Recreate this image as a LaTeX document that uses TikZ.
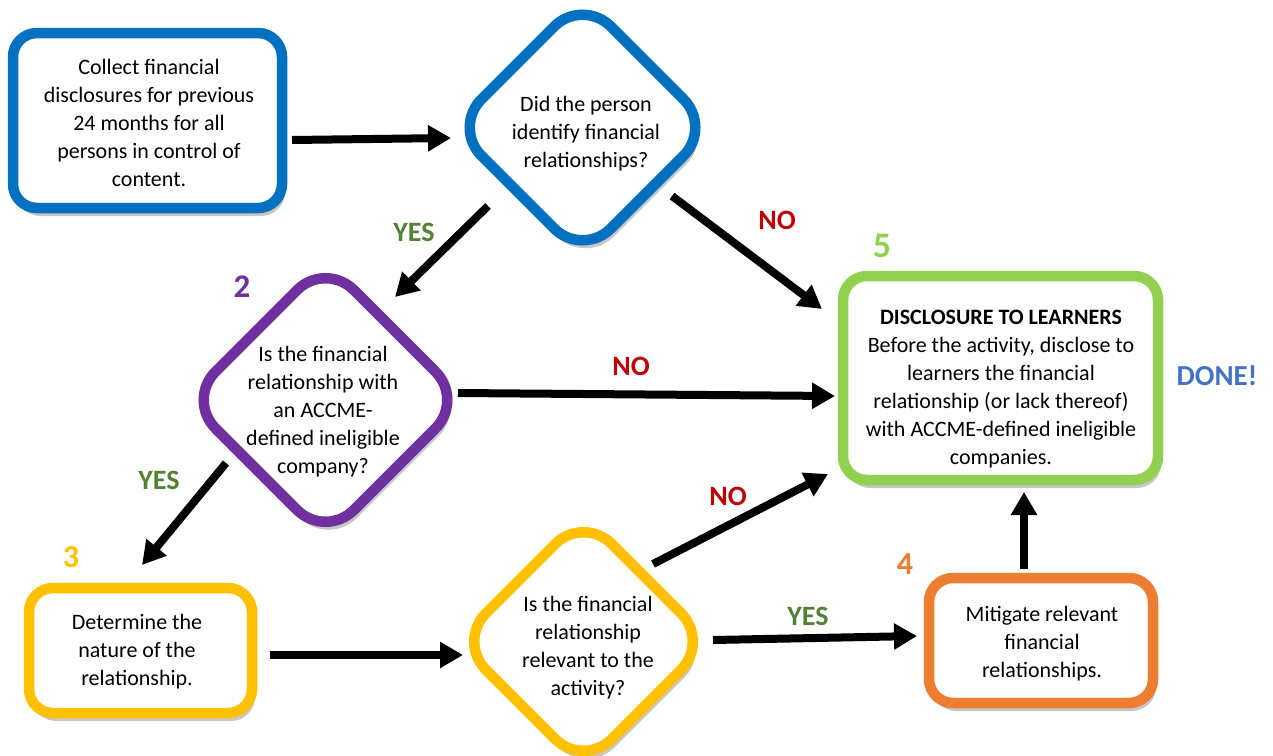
\documentclass[tikz,border=0pt]{standalone}
\usepackage{fontspec}
\setmainfont{Carlito}
\usetikzlibrary{shapes.geometric,arrows.meta,calc,shadows}
\definecolor{cblue}{HTML}{0070C0}
\definecolor{cpurple}{HTML}{7030A0}
\definecolor{cyellow}{HTML}{FFC000}
\definecolor{cgreen}{HTML}{92D050}
\definecolor{corange}{HTML}{ED7D31}
\definecolor{cdone}{HTML}{4472C4}
\definecolor{cyes}{HTML}{548235}
\definecolor{cno}{HTML}{C00000}
\newcommand\bodyfont{\fontsize{22}{28}\selectfont}
\begin{document}
\begin{tikzpicture}[x=1pt,y=-1pt,
  shad/.style={drop shadow={shadow xshift=3pt,shadow yshift=-8pt,opacity=0.22,fill=black}},
  boxshape/.style={draw,line width=10.5pt,rounded corners=24pt,fill=white,shad,inner sep=0pt},
  dshape/.style={diamond,aspect=1,draw,line width=10.5pt,rounded corners=40pt,fill=white,shad,inner sep=0pt},
  txt/.style={align=center,font=\bodyfont,inner sep=0pt},
  arr/.style={line width=8pt,-{Triangle[length=23pt,width=25pt]}},
  lab/.style={font=\fontsize{28}{30}\selectfont\bfseries,inner sep=0pt},
  num/.style={font=\fontsize{33}{36}\selectfont\bfseries,inner sep=0pt}]
\useasboundingbox (0,0) rectangle (1273,755);

% shapes
\node[boxshape,draw=cblue,minimum width=269pt,minimum height=175pt] (b1) at (147.5,120.5) {};
\node[dshape,draw=cblue,minimum width=263pt,minimum height=263pt] (d1) at (582.5,127.5) {};
\node[dshape,draw=cpurple,minimum width=281pt,minimum height=281pt] (d2) at (325.5,400) {};
\node[boxshape,draw=cgreen,minimum width=315pt,minimum height=204pt] (b5) at (1000.5,378) {};
\node[boxshape,draw=cyellow,minimum width=223pt,minimum height=125pt] (b3) at (140.5,650.5) {};
\node[dshape,draw=cyellow,minimum width=256pt,minimum height=256pt] (d3) at (583.5,641.5) {};
\node[boxshape,draw=corange,minimum width=224pt,minimum height=125pt] (b4) at (1041,640.5) {};

% texts
\node[txt] (t1) at (149,123) {Collect financial\\disclosures for previous\\24 months for all\\persons in control of\\content.};
\node[txt] (td1) at (586,133.5) {Did the person\\identify financial\\relationships?};
\node[txt] (td2) at (323,412) {Is the financial\\relationship with\\an ACCME-\\defined ineligible\\company?};
\node[txt] (t5) at (1001,389) {\textbf{DISCLOSURE TO LEARNERS}\\Before the activity, disclose to\\learners the financial\\relationship (or lack thereof)\\with ACCME-defined ineligible\\companies.};
\node[txt] (t3) at (137,651.5) {Determine the\\nature of the\\relationship.};
\node[txt] (td3) at (588,648) {Is the financial\\relationship\\relevant to the\\activity?};
\node[txt] (t4) at (1042,643.5) {Mitigate relevant\\financial\\relationships.};

% step numbers and labels
\node[num,text=cgreen,font=\fontsize{36}{38}\selectfont\bfseries] (n5) at (882,246) {5};
\node[num,text=cpurple] (n2) at (242,287) {2};
\node[num,text=cyellow,font=\fontsize{32}{34}\selectfont\bfseries] (n3) at (71,557) {3};
\node[num,text=corange,font=\fontsize{32}{34}\selectfont\bfseries] (n4) at (905,564) {4};
\node[lab,text=cdone,font=\fontsize{29}{32}\selectfont\bfseries] (done) at (1217,376) {DONE!};
\node[lab,text=cyes] (y1) at (414,232) {YES};
\node[lab,text=cno] (no1) at (777,220) {NO};
\node[lab,text=cno] (no2) at (631,366) {NO};
\node[lab,text=cyes] (y2) at (159,480) {YES};
\node[lab,text=cno] (no3) at (728,496) {NO};
\node[lab,text=cyes] (y3) at (808,616) {YES};

% connectors
\draw[arr] ($(b1)+(144.5,19.5)$) -- ($(d1)+(-131.5,10.5)$);
\draw[arr] ($(d1)+(-94.5,78.5)$) -- ($(d2)+(69.5,-103)$);
\draw[arr] ($(d1)+(89.5,68.5)$) -- ($(b5)+(-178.5,-69)$);
\draw[arr] ($(d2)+(132.5,-7)$) -- ($(b5)+(-165.5,18)$);
\draw[arr] ($(d2)+(-99.5,63)$) -- ($(b3)+(1.5,-85.5)$);
\draw[arr] ($(b3)+(129.5,4.5)$) -- ($(d3)+(-120.5,13.5)$);
\draw[arr] ($(d3)+(69.5,-77.5)$) -- ($(b5)+(-172.5,96)$);
\draw[arr] ($(d3)+(129.5,-1.5)$) -- ($(b4)+(-124,-4.5)$);
\draw[arr] ($(b4)+(-17,-71.5)$) -- ($(b5)+(23.5,114)$);
\end{tikzpicture}
\end{document}
